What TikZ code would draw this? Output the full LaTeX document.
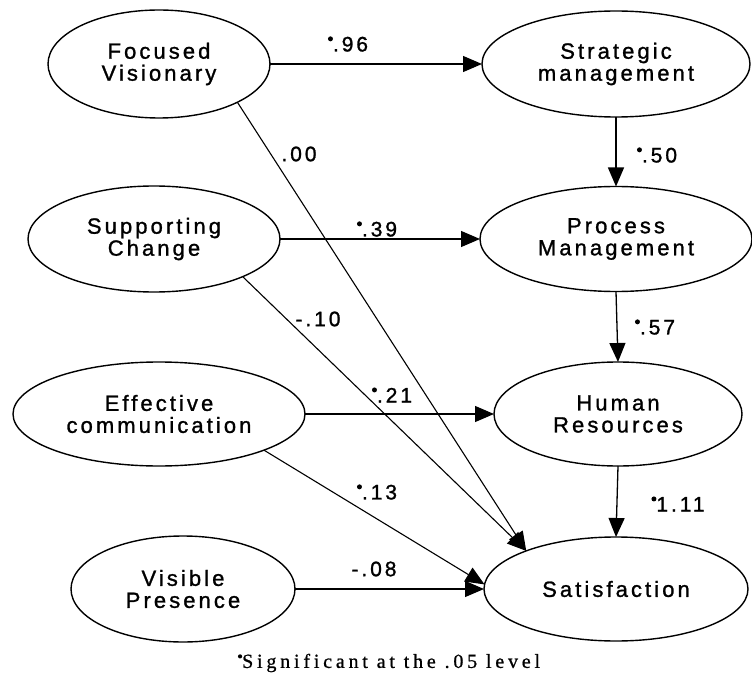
\documentclass[tikz,border=0pt]{standalone}
\usepackage{fontspec}
\setmainfont{Liberation Sans}
\newfontfamily\boxfont[LetterSpace=14,FakeBold=1.2]{Liberation Sans}
\newfontfamily\numfont[LetterSpace=14,FakeBold=1.2]{Liberation Sans}
\newfontfamily\notefont[LetterSpace=19,FakeBold=0.8]{Liberation Serif}
\usetikzlibrary{shapes.geometric,arrows.meta}
% significance marker: a small raised dot
\newcommand{\sigmark}{\tikz[x=1pt,y=1pt,baseline=0pt]\fill (2.6,12.6) circle[radius=2.5pt];}
\newcommand{\notemark}{\tikz[x=1pt,y=1pt,baseline=0pt]\fill (2.2,11.5) circle[radius=2.1pt];}
\begin{document}
\begin{tikzpicture}[x=1pt,y=-1pt,
  construct/.style={draw, ellipse, line width=1.4pt, inner sep=0pt, outer sep=0pt,
    align=center, font=\boxfont\fontsize{22}{22}\selectfont},
  path/.style={line width=1.3pt, -{Triangle[length=19pt,width=16pt]}},
  thinpath/.style={line width=1.1pt, -{Triangle[length=19pt,width=16pt]}},
  coef/.style={font=\numfont\fontsize{21}{21}\selectfont, inner sep=0pt}]
\useasboundingbox (0,0) rectangle (752,679);

% exogenous constructs (left column)
\node[construct, minimum width=222pt, minimum height=108pt] (fv) at (159,64) {Focused\\Visionary};
\node[construct, minimum width=252pt, minimum height=106pt] (sc) at (154,239) {Supporting\\Change};
\node[construct, minimum width=292pt, minimum height=104pt] (ec) at (159,414) {Effective\\communication};
\node[construct, minimum width=224pt, minimum height=106pt] (vp) at (183,589) {Visible\\Presence};

% endogenous constructs (right column)
\node[construct, minimum width=268pt, minimum height=106pt] (sm) at (616,64) {Strategic\\management};
\node[construct, minimum width=272pt, minimum height=105pt] (pm) at (616,239) {Process\\Management};
\node[construct, minimum width=248pt, minimum height=104pt] (hr) at (618,414) {Human\\Resources};
\node[construct, minimum width=264pt, minimum height=104pt] (sat) at (616,589) {Satisfaction};

% structural paths
\draw[path] (fv.east) -- (sm.west);
\draw[path] (sc.east) -- (pm.west);
\draw[path] (ec.east) -- (hr.west);
\draw[path] (vp.east) -- (sat.west);
\draw[path] (sm.south) -- (pm.north);
\draw[path] (pm.south) -- (hr.north);
\draw[path] (hr.south) -- (sat.north);
\draw[thinpath] (fv.-26) -- (sat.157);
\draw[thinpath] (sc.-23) -- (sat.157);
\draw[thinpath] (ec.-19) -- (sat.178);

% path coefficients
\node[coef] (c1) at (348,44) {\sigmark.96};
\node[coef] (c2) at (657,155) {\sigmark.50};
\node[coef] (c3) at (299,154) {.00};
\node[coef] (c4) at (377,229) {\sigmark.39};
\node[coef] (c5) at (655,327) {\sigmark.57};
\node[coef] (c6) at (318,319) {-.10};
\node[coef] (c7) at (392,395) {\sigmark.21};
\node[coef] (c8) at (377,492) {\sigmark.13};
\node[coef] (c9) at (678,504) {\sigmark1.11};
\node[coef] (c10) at (374,569) {-.08};

% footnote
\node[font=\notefont\fontsize{20}{20}\selectfont, inner sep=0pt] (note) at (389,663)
  {\notemark Significant at the .05 level};
\end{tikzpicture}
\end{document}
